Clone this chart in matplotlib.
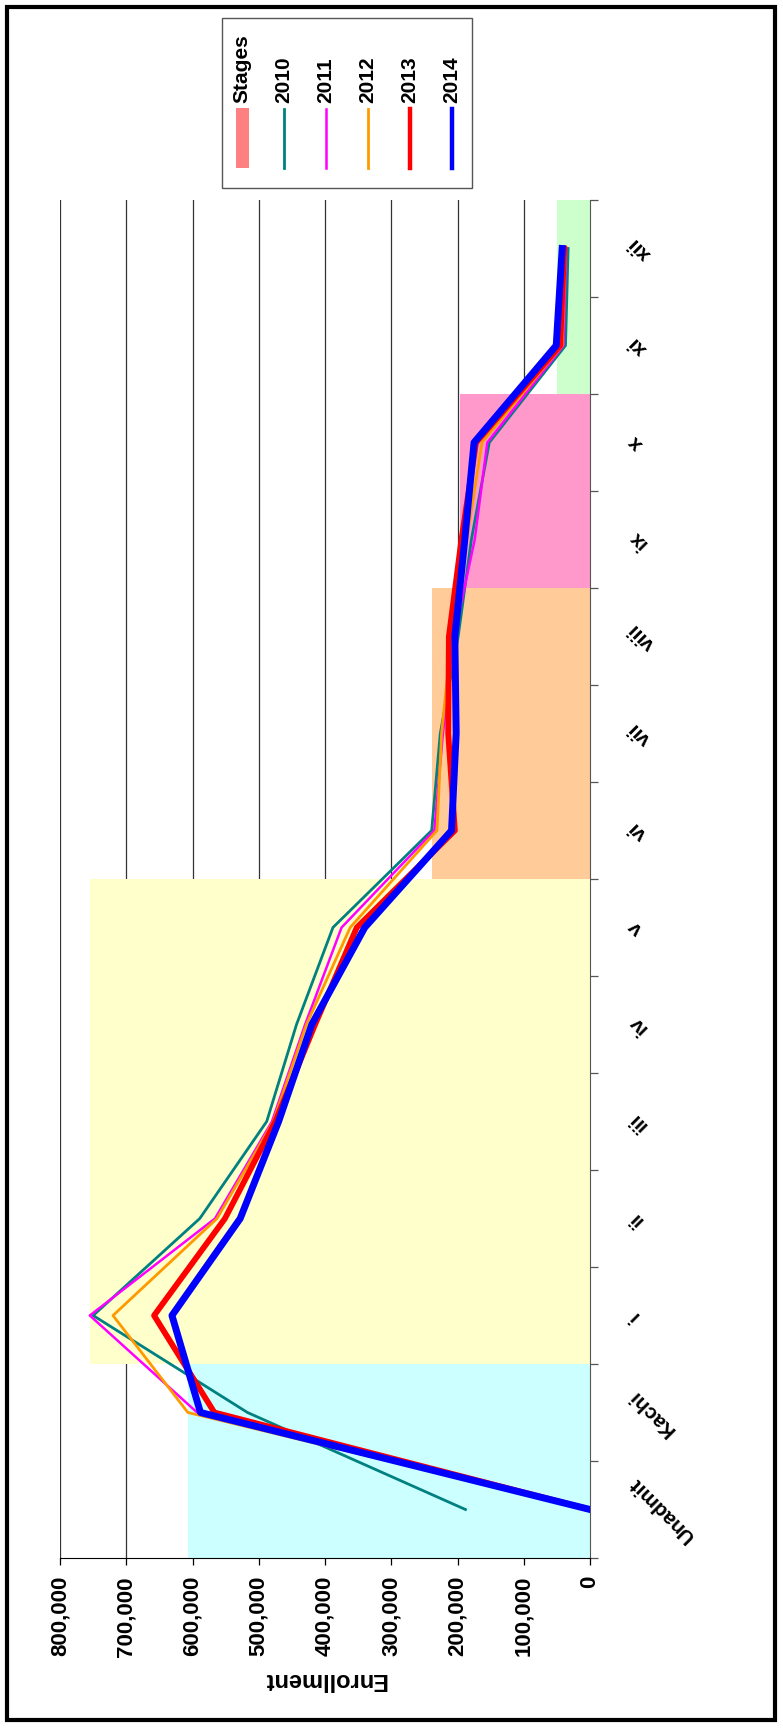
import matplotlib.pyplot as plt
import numpy as np
from matplotlib.patches import Rectangle
from matplotlib.lines import Line2D
from matplotlib.ticker import FuncFormatter, FixedLocator

plt.rcParams['font.family'] = ['Liberation Sans', 'DejaVu Sans']

# grades (category axis)
grades = ['Unadmit', 'Kachi', 'i', 'ii', 'iii', 'iv', 'v', 'vi', 'vii', 'viii', 'ix', 'x', 'xi', 'xii']

# stage bands (height of the band at each grade)
stages = [607000, 607000, 755000, 755000, 755000, 755000, 755000,
          239000, 239000, 239000, 196000, 196000, 50000, 50000]

# enrollment per year
e2010 = [188000, 517000, 750000, 589000, 488000, 443000, 388000, 239000, 226000, 199000, 179000, 152000, 37000, 33000]
e2011 = [0, 593000, 755000, 566000, 480000, 430000, 375000, 235000, 222000, 205000, 174000, 155000, 40000, 36000]
e2012 = [0, 607000, 720000, 563000, 478000, 428000, 362000, 231000, 224000, 209000, 186000, 163000, 42000, 37000]
e2013 = [0, 567000, 658000, 551000, 475000, 415000, 352000, 204000, 214000, 213000, 194000, 172000, 45000, 39000]
e2014 = [0, 588000, 631000, 528000, 470000, 420000, 340000, 209000, 202000, 204000, 189000, 175000, 51000, 42000]

years = ['2010', '2011', '2012', '2013', '2014']
series = [e2010, e2011, e2012, e2013, e2014]

W, H = 783, 1730
fig = plt.figure(figsize=(W / 100, H / 100), dpi=100)
ax = fig.add_axes([60 / W, 172 / H, 530 / W, 1358 / H])

# colours per band: preschool, primary, middle, high, higher secondary
band_colors = ['#CCFFFF', '#CCFFFF', '#FFFFCC', '#FFFFCC', '#FFFFCC', '#FFFFCC', '#FFFFCC',
               '#FFCC99', '#FFCC99', '#FFCC99', '#FF99CC', '#FF99CC', '#CCFFCC', '#CCFFCC']
line_colors = ['#008080', '#FF00FF', '#FF9900', '#FF0000', '#0000FF']
line_widths = [2.0, 1.8, 2.0, 4.2, 5.0]

pos = np.arange(len(grades))
ax.barh(pos, stages, height=1.0, color=band_colors, linewidth=0, zorder=1)
for vals, c, lw in zip(series, line_colors, line_widths):
    ax.plot(vals, pos, color=c, lw=lw, zorder=3)

ax.set_xlim(800000, 0)
ax.set_ylim(-0.5, len(grades) - 0.5)
ax.set_xticks(np.arange(0, 800001, 100000))
ax.xaxis.set_major_formatter(FuncFormatter(lambda v, p: f'{int(v):,}'))
ax.grid(axis='x', color='#333333', lw=0.9)
ax.set_axisbelow(True)

ax.yaxis.tick_right()
ax.set_yticks(pos)
ax.set_yticklabels(grades)
ax.yaxis.set_minor_locator(FixedLocator(np.arange(-0.5, len(grades), 1.0)))
ax.tick_params(axis='y', which='major', length=0, pad=25)
ax.tick_params(axis='y', which='minor', length=6, width=0.9, color='#555555', direction='out')
ax.tick_params(axis='x', length=5, width=0.9, direction='out', labelrotation=90, labelsize=16, pad=8)
for lab in ax.get_yticklabels():
    lab.set(rotation=135, rotation_mode='default', ha='left', va='center',
            fontsize=15, fontweight='bold')
for lab in ax.get_xticklabels():
    lab.set_fontweight('bold')

for s in ['top', 'left']:
    ax.spines[s].set_visible(False)
ax.spines['bottom'].set_color('black')
ax.spines['right'].set_color('#555555')

ax.set_xlabel('Enrollment', rotation=180, fontsize=17, fontweight='bold', labelpad=8)

# legend drawn by hand so its texts can stand upright like the reference
fig.patches.append(Rectangle((222 / W, 1 - 188 / H), 250 / W, 170 / H, transform=fig.transFigure,
                             facecolor='white', edgecolor='#555555', lw=1.0))
labels = ['Stages'] + years
for k, lab in enumerate(labels):
    x = (242 + 42 * k) / W
    fig.text(x, 1 - 103 / H, lab, rotation=90, ha='center', va='bottom',
             fontsize=15, fontweight='bold')
    if k == 0:
        fig.patches.append(Rectangle(((242 - 6.5) / W, 1 - 168 / H), 13 / W, 60 / H,
                                     transform=fig.transFigure, facecolor='#FF8080', lw=0))
    else:
        fig.lines.append(Line2D([x, x], [1 - 109 / H, 1 - 168 / H], transform=fig.transFigure,
                                color=line_colors[k - 1], lw=min(line_widths[k - 1], 3.2)))

# outer frame
fig.patches.append(Rectangle((7 / W, 1 - 1720 / H), 768 / W, 1713 / H, transform=fig.transFigure,
                             fill=False, edgecolor='black', lw=3.0))

fig.savefig('out.png', dpi=100)
